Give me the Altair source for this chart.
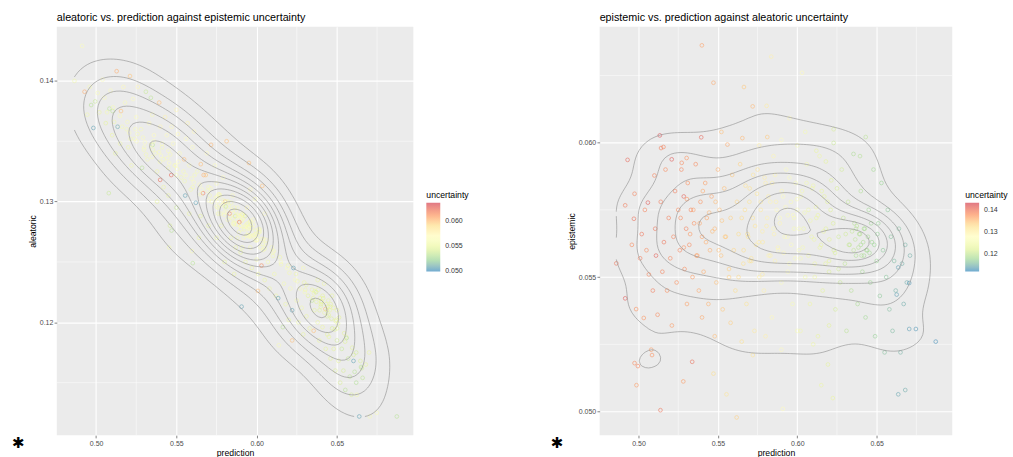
import numpy as np
import pandas as pd
import altair as alt

# ---------------------------------------------------------------------------
# Left panel: prediction vs aleatoric, coloured by epistemic uncertainty
# ---------------------------------------------------------------------------
left_pred = [
    0.4913, 0.4928, 0.4969, 0.4994, 0.4983, 0.4960, 0.4945,
    0.5010, 0.5020, 0.5040, 0.5060, 0.5083, 0.5103, 0.5134,
    0.5155, 0.5128, 0.5211, 0.5100, 0.5120, 0.5079, 0.5090,
    0.5170, 0.5180, 0.5190, 0.5200, 0.5150, 0.5230, 0.5250,
    0.5240, 0.5220, 0.5260, 0.5286, 0.5310, 0.5341, 0.5393,
    0.4865,
    0.5352, 0.5280, 0.5300, 0.5320, 0.5330, 0.5350, 0.5360,
    0.5370, 0.5380, 0.5399, 0.5400, 0.5410, 0.5420, 0.5430,
    0.5440, 0.5450, 0.5468, 0.5470, 0.5480, 0.5490, 0.5500,
    0.5510, 0.5520, 0.5530, 0.5548, 0.5555, 0.5560, 0.5570,
    0.5580, 0.5590, 0.5600, 0.5610, 0.5621, 0.5630, 0.5652,
    0.5666, 0.5670, 0.5683, 0.5690, 0.5700, 0.5716, 0.5500,
    0.5450, 0.5420, 0.5380, 0.5460, 0.5470, 0.5455, 0.5580,
    0.5720, 0.5740, 0.5750, 0.5760, 0.5770, 0.5780, 0.5790,
    0.5803, 0.5813, 0.5820, 0.5832, 0.5840, 0.5850, 0.5860,
    0.5870, 0.5880, 0.5890, 0.5900, 0.5910, 0.5920, 0.5930,
    0.5952, 0.5940, 0.5950, 0.5960, 0.5970, 0.5980, 0.5990,
    0.6000, 0.6008, 0.6010, 0.6020, 0.6030, 0.6035, 0.6040,
    0.6050, 0.6060, 0.6070, 0.6080, 0.5906, 0.5860, 0.5800,
    0.5750, 0.5700, 0.5650, 0.5602, 0.5596, 0.5640, 0.5990,
    0.5960, 0.6050, 0.5880, 0.5910, 0.5930, 0.5870, 0.5960,
    0.6100, 0.6110, 0.6120, 0.6134, 0.6138, 0.6150, 0.6163,
    0.6170, 0.6180, 0.6190, 0.6200, 0.6210, 0.6221, 0.6221,
    0.6229, 0.6240, 0.6250, 0.6260, 0.6270, 0.6280, 0.6290,
    0.6300, 0.6310, 0.6320, 0.6330, 0.6345, 0.6355, 0.6360,
    0.6370, 0.6380, 0.6390, 0.6400, 0.6410, 0.6428, 0.6430,
    0.6440, 0.6450, 0.6460, 0.6470, 0.6480, 0.6490, 0.6500,
    0.6510, 0.6520, 0.6530, 0.6540, 0.6552, 0.6560, 0.6570,
    0.6580, 0.6590, 0.6603, 0.6610, 0.6620, 0.6624, 0.6639,
    0.6650, 0.6660, 0.6680, 0.6700, 0.6705, 0.6748, 0.6873,
    0.6470, 0.6420, 0.6500, 0.6290, 0.6380, 0.6620, 0.6440,
]

left_aleatoric = [
    0.1429, 0.1391, 0.1380, 0.1383, 0.1361, 0.1395, 0.1372,
    0.1390, 0.1374, 0.1401, 0.1365, 0.1377, 0.1375, 0.1362,
    0.1375, 0.1408, 0.1404, 0.1355, 0.1340, 0.1307, 0.1392,
    0.1395, 0.1382, 0.1360, 0.1345, 0.1348, 0.1385, 0.1370,
    0.1352, 0.1330, 0.1395, 0.1328, 0.1391, 0.1386, 0.1382,
    0.1400,
    0.1347, 0.1360, 0.1345, 0.1335, 0.1365, 0.1372, 0.1355,
    0.1340, 0.1325, 0.1318, 0.1362, 0.1348, 0.1335, 0.1370,
    0.1355, 0.1342, 0.1322, 0.1362, 0.1348, 0.1330, 0.1376,
    0.1356, 0.1340, 0.1320, 0.1335, 0.1305, 0.1352, 0.1365,
    0.1330, 0.1310, 0.1345, 0.1358, 0.1299, 0.1325, 0.1331,
    0.1307, 0.1322, 0.1322, 0.1340, 0.1312, 0.1347, 0.1295,
    0.1305, 0.1312, 0.1300, 0.1280, 0.1276, 0.1262, 0.1290,
    0.1300, 0.1330, 0.1315, 0.1290, 0.1305, 0.1280, 0.1320,
    0.1300, 0.1350, 0.1285, 0.1290, 0.1270, 0.1305, 0.1282,
    0.1262, 0.1295, 0.1275, 0.1258, 0.1285, 0.1270, 0.1250,
    0.1332, 0.1295, 0.1278, 0.1262, 0.1245, 0.1285, 0.1268,
    0.1252, 0.1226, 0.1240, 0.1275, 0.1247, 0.1313, 0.1260,
    0.1235, 0.1268, 0.1250, 0.1228, 0.1213, 0.1240, 0.1250,
    0.1270, 0.1280, 0.1288, 0.1249, 0.1259, 0.1270, 0.1302,
    0.1310, 0.1290, 0.1270, 0.1262, 0.1280, 0.1285, 0.1272,
    0.1258, 0.1240, 0.1222, 0.1220, 0.1181, 0.1250, 0.1196,
    0.1232, 0.1215, 0.1245, 0.1202, 0.1228, 0.1210, 0.1185,
    0.1245, 0.1235, 0.1218, 0.1200, 0.1228, 0.1212, 0.1190,
    0.1225, 0.1205, 0.1222, 0.1195, 0.1218, 0.1193, 0.1210,
    0.1225, 0.1200, 0.1185, 0.1215, 0.1196, 0.1211, 0.1178,
    0.1205, 0.1188, 0.1170, 0.1195, 0.1178, 0.1160, 0.1185,
    0.1168, 0.1150, 0.1178, 0.1160, 0.1144, 0.1187, 0.1170,
    0.1155, 0.1140, 0.1168, 0.1159, 0.1150, 0.1140, 0.1122,
    0.1163, 0.1154, 0.1165, 0.1175, 0.1122, 0.1125, 0.1122,
    0.1222, 0.1232, 0.1210, 0.1245, 0.1235, 0.1175, 0.1190,
]

left_epistemic = [
    0.0565, 0.0605, 0.0530, 0.0535, 0.0505, 0.0560, 0.0555,
    0.0560, 0.0550, 0.0565, 0.0545, 0.0530, 0.0532, 0.0508,
    0.0600, 0.0605, 0.0598, 0.0550, 0.0545, 0.0535, 0.0565,
    0.0570, 0.0562, 0.0558, 0.0555, 0.0552, 0.0568, 0.0565,
    0.0560, 0.0555, 0.0572, 0.0530, 0.0535, 0.0532, 0.0600,
    0.0555,
    0.0530, 0.0560, 0.0565, 0.0558, 0.0570, 0.0562, 0.0568,
    0.0560, 0.0555, 0.0625, 0.0572, 0.0565, 0.0560, 0.0575,
    0.0568, 0.0563, 0.0625, 0.0570, 0.0566, 0.0560, 0.0574,
    0.0570, 0.0565, 0.0558, 0.0600, 0.0505, 0.0568, 0.0574,
    0.0562, 0.0555, 0.0566, 0.0572, 0.0505, 0.0560, 0.0600,
    0.0620, 0.0603, 0.0598, 0.0568, 0.0560, 0.0602, 0.0535,
    0.0550, 0.0552, 0.0545, 0.0540, 0.0530, 0.0555, 0.0550,
    0.0558, 0.0566, 0.0562, 0.0555, 0.0560, 0.0555, 0.0565,
    0.0600, 0.0600, 0.0558, 0.0625, 0.0555, 0.0563, 0.0560,
    0.0550, 0.0565, 0.0560, 0.0548, 0.0568, 0.0562, 0.0552,
    0.0600, 0.0570, 0.0565, 0.0558, 0.0550, 0.0568, 0.0562,
    0.0556, 0.0600, 0.0552, 0.0566, 0.0615, 0.0600, 0.0560,
    0.0550, 0.0565, 0.0558, 0.0552, 0.0505, 0.0550, 0.0545,
    0.0550, 0.0548, 0.0545, 0.0530, 0.0560, 0.0550, 0.0562,
    0.0570, 0.0568, 0.0558, 0.0555, 0.0562, 0.0563, 0.0560,
    0.0562, 0.0556, 0.0552, 0.0505, 0.0562, 0.0565, 0.0530,
    0.0558, 0.0552, 0.0566, 0.0548, 0.0560, 0.0505, 0.0600,
    0.0505, 0.0562, 0.0556, 0.0550, 0.0560, 0.0554, 0.0548,
    0.0560, 0.0552, 0.0545, 0.0550, 0.0532, 0.0600, 0.0545,
    0.0538, 0.0550, 0.0548, 0.0542, 0.0550, 0.0600, 0.0545,
    0.0540, 0.0548, 0.0545, 0.0540, 0.0546, 0.0542, 0.0538,
    0.0544, 0.0540, 0.0535, 0.0540, 0.0530, 0.0528, 0.0535,
    0.0532, 0.0540, 0.0505, 0.0530, 0.0528, 0.0555, 0.0505,
    0.0530, 0.0532, 0.0545, 0.0550, 0.0560, 0.0562, 0.0530,
    0.0548, 0.0552, 0.0545, 0.0560, 0.0550, 0.0538, 0.0545,
]

# Densely packed points along the ridge of the left cloud
left_core_pred = [
    0.5052, 0.5068,
    0.5105, 0.5112,
    0.5148, 0.5162,
    0.5195, 0.5206, 0.5214,
    0.5245, 0.5252, 0.5258,
    0.5292, 0.5298, 0.5304, 0.5311,
    0.5342, 0.5348, 0.5353, 0.5359,
    0.5392, 0.5398, 0.5404, 0.5411,
    0.5443, 0.5449, 0.5455, 0.5461,
    0.5494, 0.5499, 0.5505, 0.5512,
    0.5544, 0.5551, 0.5557,
    0.5595, 0.5602, 0.5608, 0.5614,
    0.5645, 0.5651, 0.5657,
    0.5694, 0.5701, 0.5707, 0.5713,
    0.5745, 0.5751, 0.5757, 0.5763,
    0.5794, 0.5800, 0.5806, 0.5812,
    0.5844, 0.5849, 0.5855, 0.5861, 0.5853,
    0.5894, 0.5899, 0.5905, 0.5911, 0.5903,
    0.5944, 0.5949, 0.5955, 0.5961, 0.5953,
    0.5994, 0.5999, 0.6005, 0.6011,
    0.6044, 0.6050, 0.6056,
    0.6094, 0.6101, 0.6107,
    0.6145, 0.6152,
    0.6196, 0.6204,
    0.6245, 0.6254,
    0.6296, 0.6303, 0.6309,
    0.6345, 0.6351, 0.6357,
    0.6394, 0.6399, 0.6405, 0.6411,
    0.6444, 0.6449, 0.6455, 0.6461,
    0.6495, 0.6501, 0.6507, 0.6513,
    0.6545, 0.6551, 0.6557,
    0.6595, 0.6603,
    0.6646, 0.6655,
]

left_core_aleatoric = [
    0.1386, 0.1374,
    0.1378, 0.1366,
    0.1371, 0.1362,
    0.1366, 0.1357, 0.1352,
    0.1360, 0.1350, 0.1356,
    0.1353, 0.1343, 0.1349, 0.1339,
    0.1347, 0.1337, 0.1343, 0.1350,
    0.1341, 0.1333, 0.1338, 0.1345,
    0.1336, 0.1328, 0.1332, 0.1339,
    0.1330, 0.1322, 0.1327, 0.1333,
    0.1325, 0.1317, 0.1322,
    0.1319, 0.1312, 0.1316, 0.1322,
    0.1314, 0.1306, 0.1310,
    0.1309, 0.1301, 0.1305, 0.1311,
    0.1303, 0.1296, 0.1300, 0.1306,
    0.1298, 0.1291, 0.1295, 0.1300,
    0.1293, 0.1286, 0.1290, 0.1295, 0.1282,
    0.1288, 0.1280, 0.1284, 0.1289, 0.1277,
    0.1282, 0.1275, 0.1279, 0.1284, 0.1271,
    0.1276, 0.1268, 0.1272, 0.1277,
    0.1269, 0.1261, 0.1265,
    0.1262, 0.1255, 0.1259,
    0.1254, 0.1248,
    0.1247, 0.1241,
    0.1240, 0.1234,
    0.1233, 0.1227, 0.1231,
    0.1227, 0.1220, 0.1224,
    0.1220, 0.1213, 0.1217, 0.1222,
    0.1213, 0.1206, 0.1210, 0.1215,
    0.1202, 0.1195, 0.1199, 0.1204,
    0.1191, 0.1184, 0.1188,
    0.1179, 0.1173,
    0.1168, 0.1162,
]

left_core_epistemic = [
    0.0562, 0.0558,
    0.0560, 0.0556,
    0.0563, 0.0559,
    0.0561, 0.0565, 0.0557,
    0.0562, 0.0566, 0.0559,
    0.0563, 0.0560, 0.0567, 0.0558,
    0.0564, 0.0561, 0.0557, 0.0566,
    0.0562, 0.0559, 0.0565, 0.0560,
    0.0563, 0.0558, 0.0566, 0.0561,
    0.0564, 0.0559, 0.0562, 0.0567,
    0.0561, 0.0557, 0.0564,
    0.0562, 0.0559, 0.0565, 0.0560,
    0.0563, 0.0558, 0.0566,
    0.0561, 0.0564, 0.0559, 0.0562,
    0.0565, 0.0560, 0.0563, 0.0558,
    0.0562, 0.0566, 0.0559, 0.0561,
    0.0564, 0.0560, 0.0563, 0.0558, 0.0561,
    0.0562, 0.0565, 0.0559, 0.0563, 0.0560,
    0.0561, 0.0564, 0.0558, 0.0562, 0.0566,
    0.0560, 0.0563, 0.0559, 0.0564,
    0.0561, 0.0558, 0.0562,
    0.0560, 0.0557, 0.0561,
    0.0556, 0.0559,
    0.0555, 0.0558,
    0.0552, 0.0556,
    0.0551, 0.0554, 0.0549,
    0.0550, 0.0547, 0.0552,
    0.0548, 0.0545, 0.0550, 0.0546,
    0.0547, 0.0544, 0.0549, 0.0545,
    0.0546, 0.0543, 0.0548, 0.0544,
    0.0545, 0.0542, 0.0547,
    0.0543, 0.0540,
    0.0541, 0.0538,
]

# Extra points around the main peak and the lower lobe
left_ridge_pred = [
    0.5752, 0.5758, 0.5768, 0.5774, 0.5784, 0.5790, 0.5798, 0.5808, 0.5816, 0.5822,
    0.5828, 0.5836, 0.5842, 0.5858, 0.5866, 0.5872, 0.5878, 0.5886, 0.5892, 0.5908,
    0.5916, 0.5922, 0.5928, 0.5936, 0.5942, 0.5958, 0.5966, 0.5972, 0.5986, 0.6018,
    0.6362, 0.6372, 0.6384, 0.6392, 0.6402, 0.6414, 0.6422, 0.6432, 0.6438, 0.6446,
    0.6458, 0.6466, 0.6478, 0.6486, 0.6492,
    0.5884, 0.5896, 0.5914, 0.5926, 0.5938, 0.5946, 0.5962, 0.5978, 0.5982, 0.5992,
    0.6002, 0.6014, 0.6024, 0.6032, 0.6040,
]

left_ridge_aleatoric = [
    0.1304, 0.1295, 0.1306, 0.1290, 0.1297, 0.1301, 0.1289, 0.1296, 0.1291, 0.1300,
    0.1296, 0.1287, 0.1299, 0.1281, 0.1288, 0.1292, 0.1281, 0.1288, 0.1283, 0.1290,
    0.1286, 0.1277, 0.1288, 0.1272, 0.1279, 0.1283, 0.1271, 0.1278, 0.1272, 0.1277,
    0.1226, 0.1217, 0.1227, 0.1210, 0.1217, 0.1220, 0.1208, 0.1215, 0.1210, 0.1218,
    0.1213, 0.1203, 0.1212, 0.1194, 0.1201,
    0.1289, 0.1280, 0.1289, 0.1279, 0.1281, 0.1272, 0.1281, 0.1272, 0.1281, 0.1273,
    0.1268, 0.1275, 0.1262, 0.1269, 0.1265,
]

left_ridge_epistemic = [
    0.0562, 0.0559, 0.0564, 0.0560, 0.0566, 0.0558, 0.0563, 0.0535, 0.0565, 0.0557,
    0.0561, 0.0563, 0.0559, 0.0565, 0.0540, 0.0562, 0.0558, 0.0564, 0.0620, 0.0560,
    0.0563, 0.0559, 0.0545, 0.0561, 0.0566, 0.0557, 0.0562, 0.0560, 0.0564, 0.0558,
    0.0548, 0.0545, 0.0550, 0.0543, 0.0547, 0.0544, 0.0549, 0.0546, 0.0542, 0.0548,
    0.0545, 0.0541, 0.0547, 0.0544, 0.0546,
    0.0561, 0.0564, 0.0559, 0.0563, 0.0560, 0.0565, 0.0558, 0.0562, 0.0566, 0.0560,
    0.0563, 0.0557, 0.0561, 0.0564, 0.0559,
]

# ---------------------------------------------------------------------------
# Right panel: prediction vs epistemic, coloured by aleatoric uncertainty
# ---------------------------------------------------------------------------
right_pred = [
    0.4860, 0.4916, 0.4931, 0.4916, 0.4958, 0.4971, 0.4975,
    0.4985, 0.4975, 0.4996, 0.4987, 0.5010, 0.5020, 0.5033,
    0.5040, 0.5050, 0.5059, 0.5065, 0.5080, 0.5085, 0.5090,
    0.5100, 0.5105, 0.5110, 0.5120, 0.5134, 0.5138, 0.5140,
    0.5150, 0.5160, 0.5170, 0.5180, 0.5190, 0.5200, 0.5209,
    0.5210,
    0.5220, 0.5230, 0.5240, 0.5250, 0.5260, 0.5270, 0.5282,
    0.5285, 0.5290, 0.5300, 0.5305, 0.5310, 0.5320, 0.5330,
    0.5338, 0.5340, 0.5350, 0.5360, 0.5370, 0.5380, 0.5390,
    0.5395, 0.5399, 0.5400, 0.5410, 0.5420, 0.5430, 0.5440,
    0.5450, 0.5460, 0.5472, 0.5472, 0.5480, 0.5490, 0.5500,
    0.5510, 0.5520, 0.5522, 0.5530, 0.5540, 0.5550, 0.5554,
    0.5560, 0.5570,
    0.5580, 0.5590, 0.5600, 0.5610, 0.5618, 0.5620, 0.5630,
    0.5640, 0.5654, 0.5660, 0.5664, 0.5670, 0.5680, 0.5690,
    0.5700, 0.5710, 0.5719, 0.5720, 0.5730, 0.5740, 0.5750,
    0.5760, 0.5770, 0.5780, 0.5790, 0.5800, 0.5807, 0.5811,
    0.5810, 0.5820, 0.5830, 0.5836, 0.5840, 0.5850, 0.5860,
    0.5870, 0.5880, 0.5890, 0.5900, 0.5909, 0.5910, 0.5920,
    0.5930, 0.5940, 0.5951, 0.5950, 0.5960, 0.5970, 0.5980,
    0.5990, 0.6000, 0.6010, 0.6020, 0.6030, 0.6030, 0.6040,
    0.6050, 0.6060, 0.6070, 0.6080, 0.6090, 0.6100, 0.5980,
    0.6110, 0.6120, 0.6130, 0.6140, 0.6151, 0.6150, 0.6160,
    0.6170, 0.6180, 0.6193, 0.6200, 0.6210, 0.6224, 0.6229,
    0.6230, 0.6240, 0.6250, 0.6260, 0.6270, 0.6280, 0.6290,
    0.6300, 0.6310, 0.6320, 0.6330, 0.6340, 0.6354, 0.6360,
    0.6370, 0.6380, 0.6390, 0.6400, 0.6410, 0.6420, 0.6431,
    0.6430, 0.6440, 0.6450, 0.6460, 0.6470, 0.6480, 0.6490,
    0.6500, 0.6510, 0.6520, 0.6530, 0.6540, 0.6550, 0.6560,
    0.6570, 0.6580, 0.6590, 0.6600, 0.6400, 0.6370, 0.6420,
    0.6610, 0.6620, 0.6626, 0.6636, 0.6636, 0.6640, 0.6650,
    0.6660, 0.6670, 0.6680, 0.6690, 0.6705, 0.6705, 0.6710,
    0.6747, 0.6872, 0.6680, 0.6229, 0.6395, 0.6120, 0.6000,
    0.5900, 0.5760, 0.6180, 0.5850, 0.6050, 0.5142, 0.5157,
    0.5272, 0.5303, 0.5650, 0.5720, 0.5800, 0.5900, 0.6000,
    0.6100, 0.6200, 0.5580, 0.5480, 0.5400,
]

right_epistemic = [
    0.05551, 0.05421, 0.05936, 0.05767, 0.05620, 0.05717, 0.05810,
    0.05381, 0.05180, 0.05169, 0.05098, 0.05570, 0.05660, 0.05348,
    0.05750, 0.05600, 0.05777, 0.05510, 0.05230, 0.05210, 0.05450,
    0.05878, 0.05680, 0.05580, 0.05360, 0.06027, 0.05005, 0.05780,
    0.05520, 0.05630, 0.05900, 0.05450, 0.05720, 0.05570, 0.05938,
    0.05320,
    0.05650, 0.05820, 0.05480, 0.05750, 0.05600, 0.05900, 0.05112,
    0.05800, 0.05530, 0.05680, 0.05400, 0.05850, 0.05620, 0.05750,
    0.05185, 0.05500, 0.05700, 0.05920, 0.05580, 0.05450, 0.05780,
    0.06020, 0.06362, 0.05650, 0.05520, 0.05850, 0.05720, 0.05400,
    0.05600, 0.05800, 0.05141, 0.06223, 0.05680, 0.05480, 0.05900,
    0.05750, 0.05580, 0.06040, 0.05380, 0.05830, 0.05650, 0.05064,
    0.05993, 0.05500,
    0.05720, 0.05880, 0.05600, 0.05450, 0.04978, 0.05780, 0.05660,
    0.05920, 0.06017, 0.05550, 0.06207, 0.05750, 0.05400, 0.05650,
    0.05830, 0.05570, 0.06135, 0.05720, 0.05300, 0.05620, 0.05900,
    0.05500, 0.05780, 0.05670, 0.05450, 0.05850, 0.06137, 0.06021,
    0.05720, 0.05580, 0.05780, 0.06320, 0.05350, 0.05680, 0.05880,
    0.05750, 0.05600, 0.05720, 0.05480, 0.05010, 0.05800, 0.05650,
    0.05900, 0.05730, 0.06091, 0.05550, 0.05780, 0.05400, 0.05680,
    0.05850, 0.05750, 0.05600, 0.05300, 0.06260, 0.05820, 0.05680,
    0.05500, 0.05920, 0.05750, 0.05400, 0.05650, 0.05840, 0.05720,
    0.05550, 0.05720, 0.05280, 0.05950, 0.05098, 0.05620, 0.05450,
    0.05800, 0.05680, 0.05175, 0.05520, 0.05750, 0.05050, 0.05999,
    0.05600, 0.05380, 0.05830, 0.05650, 0.05480, 0.05900, 0.05720,
    0.05550, 0.05300, 0.05780, 0.05620, 0.05450, 0.05958, 0.05700,
    0.05580, 0.05400, 0.05660, 0.05820, 0.05520, 0.05680, 0.06021,
    0.05350, 0.05600, 0.05750, 0.05480, 0.05630, 0.05900, 0.05280,
    0.05560, 0.05700, 0.05430, 0.05850, 0.05600, 0.05220, 0.05500,
    0.05750, 0.05380, 0.05650, 0.05300, 0.05620, 0.05680, 0.05580,
    0.05560, 0.05450, 0.05435, 0.05536, 0.05064, 0.05680, 0.05220,
    0.05550, 0.05400, 0.05620, 0.05480, 0.05478, 0.05307, 0.05580,
    0.05307, 0.05260, 0.05080, 0.06050, 0.05950, 0.05970, 0.05990,
    0.06010, 0.05990, 0.05930, 0.05950, 0.06040, 0.05980, 0.05984,
    0.05925, 0.05943, 0.05260, 0.05210, 0.05280, 0.05230, 0.05300,
    0.05250, 0.05320, 0.05330, 0.05280, 0.05350,
]

right_aleatoric = [
    0.1400, 0.1420, 0.1410, 0.1395, 0.1385, 0.1405, 0.1390,
    0.1380, 0.1385, 0.1390, 0.1375, 0.1395, 0.1400, 0.1378,
    0.1390, 0.1385, 0.1420, 0.1388, 0.1375, 0.1380, 0.1395,
    0.1390, 0.1400, 0.1415, 0.1385, 0.1425, 0.1400, 0.1395,
    0.1390, 0.1400, 0.1385, 0.1382, 0.1392, 0.1388, 0.1420,
    0.1375,
    0.1390, 0.1395, 0.1380, 0.1385, 0.1390, 0.1388, 0.1375,
    0.1415, 0.1382, 0.1392, 0.1370, 0.1380, 0.1385, 0.1390,
    0.1405, 0.1375, 0.1380, 0.1385, 0.1372, 0.1365, 0.1378,
    0.1410, 0.1370, 0.1370, 0.1362, 0.1372, 0.1365, 0.1358,
    0.1360, 0.1368, 0.1330, 0.1365, 0.1355, 0.1350, 0.1360,
    0.1352, 0.1348, 0.1350, 0.1345, 0.1350, 0.1345, 0.1320,
    0.1365, 0.1340,
    0.1340, 0.1345, 0.1335, 0.1330, 0.1340, 0.1335, 0.1330,
    0.1338, 0.1355, 0.1325, 0.1345, 0.1328, 0.1320, 0.1322,
    0.1325, 0.1318, 0.1355, 0.1315, 0.1312, 0.1310, 0.1318,
    0.1305, 0.1308, 0.1302, 0.1298, 0.1300, 0.1310, 0.1345,
    0.1295, 0.1292, 0.1290, 0.1300, 0.1285, 0.1285, 0.1288,
    0.1280, 0.1278, 0.1275, 0.1272, 0.1280, 0.1275, 0.1270,
    0.1272, 0.1268, 0.1285, 0.1265, 0.1265, 0.1260, 0.1262,
    0.1262, 0.1258, 0.1255, 0.1250, 0.1280, 0.1255, 0.1250,
    0.1248, 0.1255, 0.1245, 0.1240, 0.1242, 0.1245, 0.1262,
    0.1238, 0.1235, 0.1230, 0.1240, 0.1235, 0.1230, 0.1225,
    0.1228, 0.1222, 0.1225, 0.1218, 0.1220, 0.1230, 0.1205,
    0.1215, 0.1212, 0.1215, 0.1208, 0.1205, 0.1210, 0.1202,
    0.1198, 0.1195, 0.1200, 0.1195, 0.1190, 0.1185, 0.1192,
    0.1188, 0.1185, 0.1190, 0.1188, 0.1182, 0.1185, 0.1195,
    0.1178, 0.1180, 0.1178, 0.1175, 0.1176, 0.1180, 0.1170,
    0.1172, 0.1170, 0.1165, 0.1172, 0.1165, 0.1160, 0.1162,
    0.1165, 0.1158, 0.1160, 0.1155, 0.1185, 0.1190, 0.1182,
    0.1155, 0.1150, 0.1135, 0.1135, 0.1140, 0.1158, 0.1150,
    0.1148, 0.1145, 0.1150, 0.1145, 0.1130, 0.1135, 0.1148,
    0.1130, 0.1125, 0.1145, 0.1215, 0.1190, 0.1232, 0.1258,
    0.1278, 0.1305, 0.1225, 0.1290, 0.1255, 0.1395, 0.1390,
    0.1385, 0.1378, 0.1325, 0.1318, 0.1300, 0.1280, 0.1262,
    0.1240, 0.1222, 0.1340, 0.1352, 0.1365,
]

# Densely packed points in the lobes of the right cloud
right_core_pred = [
    0.5265, 0.5285, 0.5305, 0.5325, 0.5345, 0.5365, 0.5385, 0.5405, 0.5425, 0.5445,
    0.5465, 0.5485, 0.5505, 0.5525, 0.5545,
    0.5650, 0.5662, 0.5674, 0.5686, 0.5698, 0.5710, 0.5722, 0.5734, 0.5746, 0.5758,
    0.5770, 0.5782, 0.5794, 0.5806, 0.5818, 0.5830, 0.5842, 0.5854, 0.5866, 0.5878,
    0.5890, 0.5902, 0.5914, 0.5926, 0.5938, 0.5950, 0.5962, 0.5974, 0.5986, 0.5998,
    0.6010, 0.6022, 0.6034, 0.6046, 0.6058, 0.6070, 0.6082, 0.6094, 0.6106, 0.6118,
    0.6130, 0.6142, 0.6154, 0.6166, 0.6178, 0.6190, 0.6202, 0.6214, 0.6226, 0.6238,
    0.6305, 0.6325, 0.6345, 0.6355, 0.6365, 0.6375, 0.6385, 0.6395, 0.6405, 0.6415,
    0.6425, 0.6435, 0.6445, 0.6455, 0.6465, 0.6485, 0.6505,
    0.5570, 0.5630, 0.5700, 0.5780, 0.5860, 0.5940, 0.6020, 0.6110, 0.6200, 0.6260,
]

right_core_epistemic = [
    0.0572, 0.0561, 0.0579, 0.0566, 0.0575, 0.0558, 0.0570, 0.0582, 0.0563, 0.0574,
    0.0567, 0.0578, 0.0560, 0.0571, 0.0565,
    0.0572, 0.0560, 0.0584, 0.0566, 0.0578, 0.0556, 0.0588, 0.0569, 0.0581, 0.0563,
    0.0575, 0.0563, 0.0587, 0.0569, 0.0580, 0.0558, 0.0585, 0.0566, 0.0578, 0.0561,
    0.0570, 0.0582, 0.0559, 0.0576, 0.0565, 0.0587, 0.0562, 0.0573, 0.0557, 0.0579,
    0.0568, 0.0580, 0.0561, 0.0574, 0.0585, 0.0558, 0.0571, 0.0583, 0.0564, 0.0576,
    0.0573, 0.0561, 0.0582, 0.0567, 0.0555, 0.0578, 0.0564, 0.0586, 0.0570, 0.0559,
    0.0566, 0.0562, 0.0567, 0.0560, 0.0564, 0.0569, 0.0561, 0.0566, 0.0558, 0.0563,
    0.0568, 0.0560, 0.0565, 0.0559, 0.0570, 0.0562, 0.0566,
    0.0553, 0.0550, 0.0556, 0.0551, 0.0556, 0.0552, 0.0557, 0.0550, 0.0556, 0.0553,
]

right_core_aleatoric = [
    0.1383, 0.1380, 0.1378, 0.1376, 0.1373, 0.1370, 0.1367, 0.1364, 0.1361, 0.1357,
    0.1354, 0.1352, 0.1349, 0.1346, 0.1343,
    0.1330, 0.1328, 0.1326, 0.1324, 0.1322, 0.1320, 0.1318, 0.1316, 0.1315, 0.1313,
    0.1311, 0.1308, 0.1306, 0.1304, 0.1301, 0.1299, 0.1297, 0.1295, 0.1293, 0.1290,
    0.1288, 0.1285, 0.1283, 0.1280, 0.1278, 0.1275, 0.1273, 0.1270, 0.1268, 0.1265,
    0.1263, 0.1260, 0.1258, 0.1255, 0.1253, 0.1250, 0.1248, 0.1245, 0.1243, 0.1240,
    0.1238, 0.1235, 0.1233, 0.1230, 0.1228, 0.1225, 0.1223, 0.1220, 0.1218, 0.1216,
    0.1209, 0.1205, 0.1201, 0.1199, 0.1197, 0.1195, 0.1193, 0.1191, 0.1189, 0.1187,
    0.1185, 0.1183, 0.1181, 0.1179, 0.1177, 0.1173, 0.1169,
    0.1340, 0.1332, 0.1322, 0.1308, 0.1292, 0.1276, 0.1260, 0.1242, 0.1224, 0.1212,
]

# Axis breaks and colour-bar ranges
pred_ticks = [0.50, 0.55, 0.60, 0.65]
pred_minor = [0.525, 0.575, 0.625, 0.675]
aleatoric_ticks = [0.12, 0.13, 0.14]
aleatoric_minor = [0.115, 0.125, 0.135]
epistemic_ticks = [0.050, 0.055, 0.060]
epistemic_minor = [0.0525, 0.0575, 0.0625]
pred_limits = [0.4755, 0.6976]
aleatoric_limits = [0.11065, 0.14448]
epistemic_limits = [0.04912, 0.06431]
epistemic_colour_range = [0.0498, 0.0636]
aleatoric_colour_range = [0.1120, 0.1433]

SPECTRAL = ["#3288BD", "#99D594", "#E6F598", "#FFFFBF", "#FEE08B", "#FC8D59", "#D53E4F"]

left_all_pred = left_pred + left_core_pred + left_ridge_pred
left_all_aleatoric = left_aleatoric + left_core_aleatoric + left_ridge_aleatoric
left_all_epistemic = left_epistemic + left_core_epistemic + left_ridge_epistemic
right_all_pred = right_pred + right_core_pred
right_all_epistemic = right_epistemic + right_core_epistemic
right_all_aleatoric = right_aleatoric + right_core_aleatoric

assert len(left_all_pred) == len(left_all_aleatoric) == len(left_all_epistemic)
assert len(right_all_pred) == len(right_all_epistemic) == len(right_all_aleatoric)


# ---------------------------------------------------------------------------
# 2-d kernel density estimate and contour tracing (like MASS::kde2d + pretty)
# ---------------------------------------------------------------------------
def bandwidth_nrd(v):
    v = np.asarray(v, dtype=float)
    q75, q25 = np.percentile(v, [75, 25])
    spread = min(np.std(v, ddof=1), (q75 - q25) / 1.34)
    return 4 * 1.06 * spread * len(v) ** (-0.2)


def kde2d(xv, yv, n=100):
    xv = np.asarray(xv, dtype=float)
    yv = np.asarray(yv, dtype=float)
    hx = bandwidth_nrd(xv) / 4
    hy = bandwidth_nrd(yv) / 4
    gx = np.linspace(xv.min(), xv.max(), n)
    gy = np.linspace(yv.min(), yv.max(), n)
    kx = np.exp(-0.5 * ((gx[:, None] - xv[None, :]) / hx) ** 2) / np.sqrt(2 * np.pi)
    ky = np.exp(-0.5 * ((gy[:, None] - yv[None, :]) / hy) ** 2) / np.sqrt(2 * np.pi)
    z = ky @ kx.T / (len(xv) * hx * hy)
    return gx, gy, z


def pretty_breaks(lo, hi, n=10):
    cell = (hi - lo) / n
    base = 10 ** np.floor(np.log10(cell))
    unit = base
    if 2 * base - cell < 1.5 * (cell - unit):
        unit = 2 * base
        if 5 * base - cell < 2.75 * (cell - unit):
            unit = 5 * base
            if 10 * base - cell < 1.5 * (cell - unit):
                unit = 10 * base
    start = np.floor(lo / unit + 1e-7) * unit
    end = np.ceil(hi / unit - 1e-7) * unit
    return np.arange(start, end + unit / 2, unit)


def trace_level(gx, gy, z, level):
    above = z >= level
    ny, nx = z.shape

    def locate(key):
        kind, i, j = key
        if kind == "h":
            z0, z1 = z[j, i], z[j, i + 1]
            t = (level - z0) / (z1 - z0)
            return gx[i] + t * (gx[i + 1] - gx[i]), gy[j]
        z0, z1 = z[j, i], z[j + 1, i]
        t = (level - z0) / (z1 - z0)
        return gx[i], gy[j] + t * (gy[j + 1] - gy[j])

    nbrs = {}

    def link(a, b):
        nbrs.setdefault(a, []).append(b)
        nbrs.setdefault(b, []).append(a)

    for j in range(ny - 1):
        for i in range(nx - 1):
            a0, a1 = above[j, i], above[j, i + 1]
            a2, a3 = above[j + 1, i + 1], above[j + 1, i]
            if a0 == a1 == a2 == a3:
                continue
            bottom, right = ("h", i, j), ("v", i + 1, j)
            top, left = ("h", i, j + 1), ("v", i, j)
            cross = [k for k, c in ((bottom, a0 != a1), (right, a1 != a2),
                                    (top, a2 != a3), (left, a3 != a0)) if c]
            if len(cross) == 2:
                link(cross[0], cross[1])
            else:
                centre = (z[j, i] + z[j, i + 1] + z[j + 1, i + 1] + z[j + 1, i]) / 4 >= level
                if a0 == centre:
                    link(bottom, right)
                    link(top, left)
                else:
                    link(left, bottom)
                    link(right, top)

    paths, seen = [], set()
    starts = [k for k, v in nbrs.items() if len(v) == 1] + list(nbrs)
    for s in starts:
        if s in seen:
            continue
        path, prev, cur = [s], None, s
        seen.add(s)
        while True:
            nxt = [k for k in nbrs[cur] if k != prev and k not in seen]
            if not nxt:
                if s in nbrs[cur] and len(path) > 2:
                    path.append(s)
                break
            prev, cur = cur, nxt[0]
            path.append(cur)
            seen.add(cur)
        paths.append([locate(k) for k in path])
    return paths


def contour_frame(xv, yv):
    gx, gy, z = kde2d(xv, yv)
    rows = []
    for li, level in enumerate(pretty_breaks(z.min(), z.max())):
        if level <= z.min() or level >= z.max():
            continue
        for pi, path in enumerate(trace_level(gx, gy, z, level)):
            for k, (px, py) in enumerate(path):
                rows.append({"path": f"{li}-{pi}", "k": k, "x": px, "y": py})
    return pd.DataFrame(rows)


# ---------------------------------------------------------------------------
# One ggplot-style panel: minor grid, points, density contours, legend
# ---------------------------------------------------------------------------
def panel(pred, yvals, cvals, y_name, c_name, title, y_limits, y_ticks, y_minor,
          y_fmt, c_range, c_ticks, c_fmt, width, height, legend_x, star_x):
    pts = pd.DataFrame({"prediction": pred, y_name: yvals, c_name: cvals})
    lines = contour_frame(pred, yvals)

    xs = alt.Scale(domain=pred_limits, nice=False, zero=False)
    ys = alt.Scale(domain=y_limits, nice=False, zero=False)
    x_axis = alt.Axis(values=pred_ticks, format=".2f", title="prediction")
    y_axis = alt.Axis(values=y_ticks, format=y_fmt, title=y_name)

    minor_x = alt.Chart(pd.DataFrame({"v": pred_minor})).mark_rule(
        color="white", strokeWidth=0.5
    ).encode(x=alt.X("v:Q", scale=xs, axis=x_axis))
    minor_y = alt.Chart(pd.DataFrame({"v": y_minor})).mark_rule(
        color="white", strokeWidth=0.5
    ).encode(y=alt.Y("v:Q", scale=ys, axis=y_axis))

    colour_domain = list(np.linspace(c_range[0], c_range[1], len(SPECTRAL)))
    points = alt.Chart(pts).mark_point(
        shape="circle", filled=False, size=14, strokeWidth=0.8, opacity=0.7
    ).encode(
        x=alt.X("prediction:Q", scale=xs, axis=x_axis),
        y=alt.Y(f"{y_name}:Q", scale=ys, axis=y_axis),
        color=alt.Color(
            f"{c_name}:Q",
            scale=alt.Scale(domain=colour_domain, range=SPECTRAL, interpolate="lab"),
            legend=alt.Legend(
                title="uncertainty", orient="none", legendX=legend_x, legendY=165,
                direction="vertical", values=c_ticks, format=c_fmt,
                gradientLength=69, gradientThickness=14, gradientStrokeWidth=0,
                labelFontSize=7, labelColor="#333333", labelOffset=5,
                labelOverlap=False, labelBaseline="middle",
                titleFontSize=8.7, titleFontWeight="normal", titleColor="black",
                titlePadding=3,
            ),
        ),
    )

    contours = alt.Chart(lines).mark_line(color="#8C8C8C", strokeWidth=0.6).encode(
        x=alt.X("x:Q", scale=xs, axis=x_axis),
        y=alt.Y("y:Q", scale=ys, axis=y_axis),
        detail="path:N",
        order="k:Q",
    )

    star = alt.Chart(pd.DataFrame({"glyph": ["\u2731"]})).mark_text(
        font="DejaVu Sans", fontSize=15, align="left", baseline="middle", color="black"
    ).encode(x=alt.value(star_x), y=alt.value(height + 7.5), text="glyph:N")

    return alt.layer(minor_x, minor_y, points, contours, star).properties(
        width=width, height=height,
        title=alt.TitleParams(
            title, anchor="start", frame="group", fontSize=10.8,
            fontWeight="normal", color="black", offset=4,
        ),
    )


left = panel(left_all_pred, left_all_aleatoric, left_all_epistemic, "aleatoric", "epistemic",
             "aleatoric vs. prediction against epistemic uncertainty",
             aleatoric_limits, aleatoric_ticks, aleatoric_minor, ".2f",
             epistemic_colour_range, epistemic_ticks, ".3f", 358, 410, 371, -45)

right = panel(right_all_pred, right_all_epistemic, right_all_aleatoric, "epistemic", "aleatoric",
              "epistemic vs. prediction against aleatoric uncertainty",
              epistemic_limits, epistemic_ticks, epistemic_minor, ".3f",
              aleatoric_colour_range, aleatoric_ticks, ".2f", 354, 410, 367, -49)

chart = alt.hconcat(left, right, spacing=187, bounds="flush").resolve_scale(
    color="independent"
).resolve_legend(color="independent").properties(
    padding={"left": 12, "top": 10, "right": 5, "bottom": 0},
    background="white",
).configure(font="Liberation Sans").configure_view(
    fill="#EBEBEB", stroke=None
).configure_axis(
    grid=True, gridColor="white", gridWidth=1.1, domain=False,
    tickColor="#333333", tickSize=2.7, tickWidth=0.6,
    labelColor="#4D4D4D", labelFontSize=7, labelPadding=1.2,
    titleFontSize=8.7, titleFontWeight="normal", titleColor="black", titlePadding=2,
)

chart.save("out.html", embed_options={"renderer": "svg", "actions": False})
